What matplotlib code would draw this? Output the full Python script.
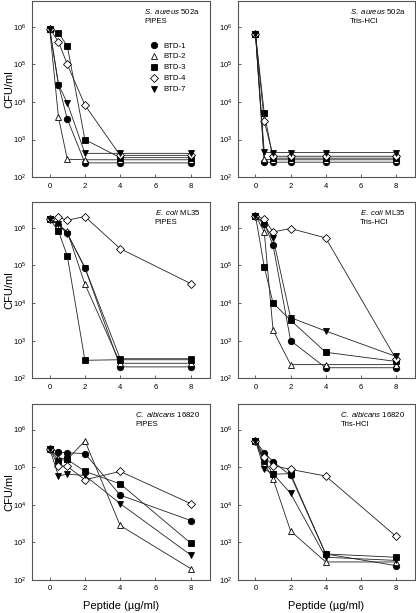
import matplotlib.pyplot as plt
from matplotlib.ticker import LogLocator, NullLocator

plt.rcParams['font.family'] = ['Liberation Sans', 'DejaVu Sans']
plt.rcParams['mathtext.fontset'] = 'custom'
plt.rcParams['mathtext.rm'] = 'Liberation Sans'
plt.rcParams['mathtext.it'] = 'Liberation Sans:italic'

peptide = [0, 0.5, 1, 2, 4, 8]
series = ["BTD-1", "BTD-2", "BTD-3", "BTD-4", "BTD-7"]
markers = ["o", "^", "s", "D", "v"]
filled = [True, False, True, False, True]

# CFU/ml, one row per series (BTD-1, BTD-2, BTD-3, BTD-4, BTD-7)
sa_pipes = [
    [9e5, 2.9e4, 3.5e3, 2.4e2, 2.4e2, 2.4e2],
    [9e5, 3.9e3, 3.0e2, 2.9e2, 2.9e2, 2.9e2],
    [9e5, 6.8e5, 3.1e5, 1.0e3, 3.3e2, 3.3e2],
    [9e5, 4.0e5, 1.0e5, 8.3e3, 3.8e2, 3.8e2],
    [9e5, 2.9e4, 9.4e3, 4.3e2, 4.3e2, 4.3e2],
]
sa_tris = [
    [6.4e5, 2.5e2, 2.5e2, 2.5e2, 2.5e2, 2.5e2],
    [6.4e5, 3.0e2, 2.9e2, 2.9e2, 2.9e2, 2.9e2],
    [6.4e5, 5.0e3, 3.2e2, 3.2e2, 3.2e2, 3.2e2],
    [6.4e5, 3.1e3, 3.6e2, 3.6e2, 3.6e2, 3.6e2],
    [6.4e5, 4.6e2, 4.5e2, 4.5e2, 4.5e2, 4.5e2],
]
ec_pipes = [
    [1.75e6, 1.2e6, 7.2e5, 8.7e4, 2.0e2, 2.0e2],
    [1.75e6, 1.2e6, 8.0e5, 3.2e4, 2.5e2, 2.5e2],
    [1.75e6, 8.1e5, 1.8e5, 3.0e2, 3.1e2, 3.1e2],
    [1.75e6, 1.9e6, 1.6e6, 2.0e6, 2.8e5, 3.3e4],
    [1.75e6, 1.25e6, 7.0e5, 8.7e4, 3.3e2, 3.3e2],
]
ec_tris = [
    [2.1e6, 1.3e6, 3.5e5, 1.0e3, 1.9e2, 1.9e2],
    [2.1e6, 7.8e5, 1.9e3, 2.3e2, 2.3e2, 2.3e2],
    [2.1e6, 9.1e4, 1.0e4, 3.5e3, 4.9e2, 2.8e2],
    [2.1e6, 1.7e6, 7.8e5, 9.6e5, 5.4e5, 3.3e2],
    [2.1e6, 1.2e6, 5.4e5, 4.1e3, 1.8e3, 3.8e2],
]
ca_pipes = [
    [3.1e5, 2.5e5, 2.4e5, 2.3e5, 1.8e4, 3.8e3],
    [3.1e5, 1.8e5, 1.6e5, 5.0e5, 2.8e3, 2.0e2],
    [3.1e5, 1.5e5, 1.6e5, 7.7e4, 3.6e4, 9.5e2],
    [3.1e5, 1.1e5, 1.05e5, 4.6e4, 7.7e4, 1.07e4],
    [3.1e5, 5.8e4, 6.5e4, 6.0e4, 1.07e4, 4.6e2],
]
ca_tris = [
    [5e5, 2.4e5, 1.4e5, 6.0e4, 4.9e2, 2.4e2],
    [5e5, 1.25e5, 4.9e4, 2.0e3, 3.0e2, 3.0e2],
    [5e5, 1.5e5, 6.5e4, 6.7e4, 4.9e2, 4.0e2],
    [5e5, 1.9e5, 1.1e5, 8.7e4, 5.8e4, 1.45e3],
    [5e5, 8.7e4, 6.7e4, 2.0e4, 4.0e2, 3.3e2],
]

panels = [
    (sa_pipes, r"$\it{S.\ aureus}$ 502a", "PIPES"),
    (sa_tris, r"$\it{S.\ aureus}$ 502a", "Tris-HCl"),
    (ec_pipes, r"$\it{E.\ coli}$ ML35", "PIPES"),
    (ec_tris, r"$\it{E.\ coli}$ ML35", "Tris-HCl"),
    (ca_pipes, r"$\it{C.\ albicans}$ 16820", "PIPES"),
    (ca_tris, r"$\it{C.\ albicans}$ 16820", "Tris-HCl"),
]

fig = plt.figure(figsize=(4.16, 6.13), dpi=100)
col_x = [0.077, 0.572]
col_w = [0.428, 0.426]
row_y = [0.711, 0.383, 0.054]
row_h = 0.287

for i, (data, organism, buffer) in enumerate(panels):
    r, c = divmod(i, 2)
    ax = fig.add_axes([col_x[c], row_y[r], col_w[c], row_h])
    for vals, name, m, f in zip(data, series, markers, filled):
        ms = 4.0 if m == "D" else 4.6
        ax.plot(peptide, vals, color="#222222", lw=0.6, marker=m, ms=ms,
                markerfacecolor="black" if f else "white",
                markeredgecolor="black", markeredgewidth=0.6, label=name)
    ax.set_yscale("log")
    ax.set_ylim(1e2, 10 ** 6.68)
    ax.set_xlim(-1, 9.1)
    ax.set_xticks([0, 2, 4, 6, 8])
    ax.yaxis.set_major_locator(LogLocator(base=10, numticks=10))
    ax.yaxis.set_minor_locator(NullLocator())
    ax.tick_params(direction="in", length=2.5, width=0.6, labelsize=5.5,
                   color="#444444", pad=4)
    for s in ax.spines.values():
        s.set_color("#555555")
        s.set_linewidth(0.8)
    ax.text(0.945, 0.965, organism + "\n" + buffer, transform=ax.transAxes,
            ha="right", va="top", multialignment="left", fontsize=5.6,
            linespacing=1.3)
    if c == 0:
        ax.set_ylabel("CFU/ml", fontsize=8)
        ax.yaxis.set_label_coords(-0.1, 0.5)
    if r == 2:
        ax.set_xlabel("Peptide (\u00b5g/ml)", fontsize=8, labelpad=6)
    if i == 0:
        ax.legend(loc="upper left", bbox_to_anchor=(0.64, 0.79), frameon=False,
                  fontsize=5.6, handlelength=1.0, handletextpad=0.8,
                  labelspacing=0.45, borderpad=0, numpoints=1)
        for h in ax.get_legend().get_lines():
            h.set_linestyle("none")

fig.savefig("out.png", dpi=100)
